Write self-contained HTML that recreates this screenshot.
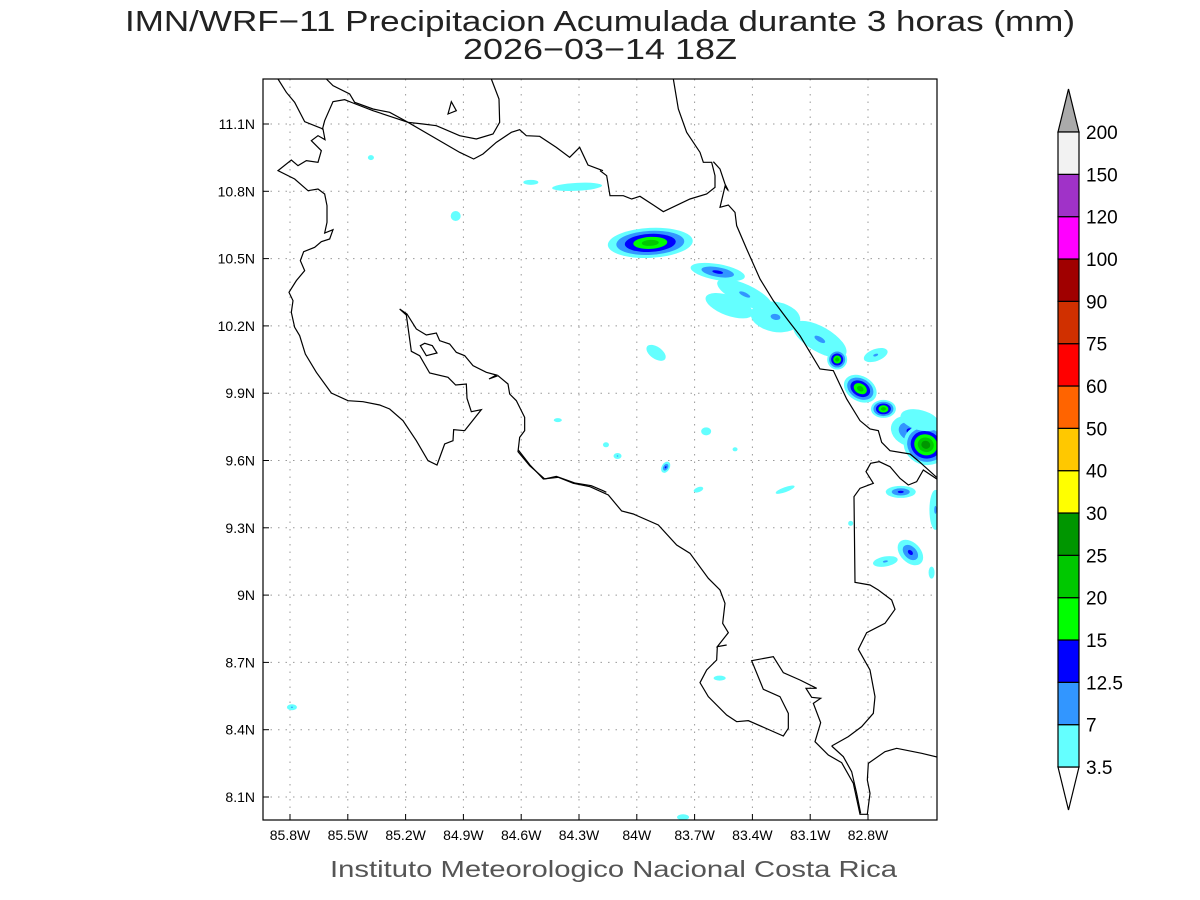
<!DOCTYPE html>
<html><head><meta charset="utf-8"><style>
body{margin:0;background:#fff;width:1200px;height:900px;overflow:hidden}
svg{display:block;font-family:"Liberation Sans",sans-serif}
</style></head><body>
<svg id="chart" width="1200" height="900" viewBox="0 0 1200 900">
<text x="125" y="31" textLength="950" lengthAdjust="spacingAndGlyphs" font-size="29" fill="#222">IMN/WRF−11 Precipitacion Acumulada durante 3 horas (mm)</text>
<text x="463" y="59" textLength="274" lengthAdjust="spacingAndGlyphs" font-size="29" fill="#222">2026−03−14 18Z</text>
<defs><clipPath id="clip"><rect x="263" y="79" width="674" height="741"/></clipPath></defs>
<g id="grid"></g>
<g id="blobs" clip-path="url(#clip)"></g>
<g clip-path="url(#clip)" fill="none" stroke="#000" stroke-width="1.2">
 <g transform="translate(263,79) scale(0.33333)">
  <polyline vector-effect="non-scaling-stroke" points="45,0 70,40 95,70 125,128 180,150 186,182 165,170 145,185 175,215 165,250 130,245 105,260 85,243 45,275 95,300 135,335 165,330 185,345 192,380 192,430 185,462 210,452 200,480 175,488 155,505 122,518 112,545 125,575 100,605 78,640 90,665 85,700 95,745 110,770 127,825 160,880 205,942 255,965 300,968 350,978 380,990 420,1025 460,1085 495,1145 522,1158 545,1095 570,1085 572,1052 605,1055 655,992 625,998 612,958 610,915 578,918 555,895 500,882 470,830 445,817 430,708 410,690 432,705 460,750 490,768 520,762 530,785 560,795 580,820 605,830 630,860 670,880 700,888 678,900 705,890 735,915 740,945 760,965 785,1015 785,1055 770,1075 765,1118 800,1160 845,1200 880,1192 935,1212 985,1220 1020,1235 1030,1240"/>
  <polyline vector-effect="non-scaling-stroke" points="178,152 185,125 210,68 245,62 270,72 330,95 435,130 590,220 632,240 660,225 700,190 745,160 770,152 790,170 830,172 880,205 920,235 950,205 975,258 1020,275"/>
  <polyline vector-effect="non-scaling-stroke" points="190,0 210,20 260,45 275,70 330,90 380,100 435,130 480,135 520,140 590,170 640,180 690,165 710,130 708,60 685,0"/>
  <polygon vector-effect="non-scaling-stroke" points="555,105 580,95 565,68"/>
  <polygon vector-effect="non-scaling-stroke" points="472,800 485,793 508,800 522,822 490,830"/>
 </g>
 <g transform="translate(600,79) scale(0.33333)">
  <polyline vector-effect="non-scaling-stroke" points="0,275 20,290 30,350 70,350 95,360 120,352 160,378 190,398 270,360 320,345 345,325 345,290 335,250 310,250 300,220 260,160 235,90 220,0"/>
  <polyline vector-effect="non-scaling-stroke" points="340,248 360,270 375,315 385,335 375,322 360,385 385,378 405,400 410,440 440,510 480,600 520,665 565,725 600,770 630,820 660,870 700,875 740,960 780,1025 810,1050 835,1055 845,1090 870,1115 930,1125 960,1150 1010,1195"/>
 </g>
 <g transform="translate(480,450) scale(0.33333)">
  <polyline vector-effect="non-scaling-stroke" points="115,0 150,45 190,87 235,82 280,100 330,110 385,135 425,183 460,192 535,225 590,285 630,310 685,385 720,420 735,460 728,520 745,548 712,590 740,585 712,590 710,630 680,660 660,698 685,740 740,795 770,815 805,812 910,858 925,835 925,790 900,740 850,718 815,632 880,620 910,668 960,690 1010,715 978,715 995,742 1022,745 1000,760 1022,818 1005,875 1045,915 1085,938 1120,1000 1140,1093 1162,1093 1170,1030 1162,990 1165,940 1215,905 1250,895 1325,910 1375,922"/>
  <polyline vector-effect="non-scaling-stroke" points="1055,888 1105,860 1145,830 1180,790 1185,740 1170,660 1135,598 1160,548 1215,520 1245,478 1235,450 1195,420 1170,405 1125,397 1122,140 1140,115 1180,100 1158,65 1172,40 1198,35 1230,50 1260,85 1285,105 1310,95 1330,60 1375,90"/>
  <polyline vector-effect="non-scaling-stroke" points="1055,888 1090,920 1115,965 1130,1030 1142,1090"/>
 </g>
</g>
<rect x="263" y="79" width="674" height="741" fill="none" stroke="#000" stroke-width="1.2"/>
<g id="axes"></g>
<g id="cbar"></g>
<text x="330" y="877" textLength="567" lengthAdjust="spacingAndGlyphs" font-size="23" fill="#555">Instituto Meteorologico Nacional Costa Rica</text>
</svg>
<script>
const lonTicks=[85.8,85.5,85.2,84.9,84.6,84.3,84.0,83.7,83.4,83.1,82.8];
const latTicks=[11.1,10.8,10.5,10.2,9.9,9.6,9.3,9.0,8.7,8.4,8.1];
const levels=[3.5,7,12.5,15,20,25,30,40,50,60,75,90,100,120,150,200];
const levelColors=["#64ffff","#3296ff","#0000ff","#00ff00","#00c800","#009600","#ffff00","#ffc800","#ff6400","#ff0000","#d03000","#a00000","#ff00ff","#a032c8","#f2f2f2"];
const blobLon=[83.93,84.94,84.31,84.55,85.38,83.58,83.44,83.28,83.52,83.90,83.05,82.96,82.84,82.72,82.76,82.58,82.50,82.53,82.45,82.63,82.58,82.71,83.85,84.10,84.16,83.64,84.41,83.49,83.23,83.68,85.79,83.76,83.57,82.89,82.47];
const blobLat=[10.57,10.69,10.82,10.84,10.95,10.44,10.34,10.24,10.29,10.08,10.14,10.05,9.92,9.83,10.07,9.73,9.67,9.78,9.38,9.46,9.19,9.15,9.57,9.62,9.67,9.73,9.78,9.65,9.47,9.47,8.50,8.01,8.63,9.32,9.10];
const blobMax=[22,5,5,5,5,13,9,10,5,5,9,22,22,22,8,13,28,5,9,13,13,8,13,8,5,5,5,5,5,5,9,5,5,5,5];
const blobW=[85,10,50,15,6,55,60,50,50,12,60,20,35,25,25,40,45,40,12,30,20,25,8,8,6,10,8,5,20,5,10,12,12,5,6];
const blobH=[30,10,8,5,5,16,20,30,20,22,25,20,25,18,12,30,40,20,40,12,30,10,12,6,5,8,4,4,5,10,6,6,5,5,12];
const blobRot=[-3,0,-3,0,0,10,25,10,20,-55,30,45,30,0,-20,20,20,15,0,0,-45,-10,30,0,0,0,0,0,-20,70,0,0,0,0,0];
const NS="http://www.w3.org/2000/svg";
const xScale=lon=>290+(85.8-lon)/0.3*57.8;
const yScale=lat=>124+(11.1-lat)/0.3*67.3;
function mk(tag,attrs,parent){const e=document.createElementNS(NS,tag);for(const k in attrs)e.setAttribute(k,attrs[k]);parent.appendChild(e);return e;}
const grid=document.getElementById('grid'),axes=document.getElementById('axes');
lonTicks.forEach(v=>{const x=xScale(v);
 const l=mk('line',{x1:x,y1:79,x2:x,y2:820,stroke:'#999','stroke-dasharray':'1.5 6'},grid);
 
 
 const t=mk('line',{x1:x,y1:820,x2:x,y2:814,stroke:'#000'},axes);
 
 
 const tx=mk('text',{x:x,y:840,'text-anchor':'middle','font-size':14,fill:'#000'},axes);
 tx.textContent=(v.toFixed(1).replace(/\.0$/,''))+'W';
 
 });
latTicks.forEach(v=>{const y=yScale(v);
 const l=mk('line',{x1:263,y1:y,x2:937,y2:y,stroke:'#999','stroke-dasharray':'1.5 6'},grid);
 
 
 const t=mk('line',{x1:263,y1:y,x2:269,y2:y,stroke:'#000'},axes);
 
 
 const tx=mk('text',{x:255,y:y+5,'text-anchor':'end','font-size':14,fill:'#000'},axes);
 tx.textContent=(v.toFixed(1).replace(/\.0$/,''))+'N';
 
 });
const blobs=document.getElementById('blobs');
blobLon.forEach((lon,i)=>{const cx=xScale(lon),cy=yScale(blobLat[i]);
 const n=levels.filter(t=>t<=blobMax[i]).length;
 for(let k=0;k<n;k++){const s=n>1?1-k*0.8/(n-1):1;
  const e=mk('ellipse',{cx:cx,cy:cy,rx:blobW[i]/2*s,ry:blobH[i]/2*s,fill:levelColors[k],transform:`rotate(${blobRot[i]} ${cx} ${cy})`},blobs);
  
  }});
const cb=document.getElementById('cbar');
const cbTop=132,cbBot=767,nb=levels.length-1,bh=(cbBot-cbTop)/nb;
const up=mk('polygon',{points:`1058,${cbTop} 1079,${cbTop} 1068.5,89`,fill:'#aaaaaa',stroke:'#000','stroke-width':1.2},cb);


const dn=mk('polygon',{points:`1058,${cbBot} 1079,${cbBot} 1068.5,810`,fill:'#fff',stroke:'#000','stroke-width':1.2},cb);


for(let i=0;i<nb;i++){const y=cbBot-(i+1)*bh;
 const r=mk('rect',{x:1058,y:y,width:21,height:bh,fill:levelColors[i],stroke:'#000','stroke-width':1.2},cb);
 
 }
levels.forEach((v,i)=>{const y=cbBot-i*bh;
 const t=mk('text',{x:1086,y:y+7,'font-size':19,fill:'#000'},cb);
 t.textContent=String(v);
 
 });
</script>
</body></html>
